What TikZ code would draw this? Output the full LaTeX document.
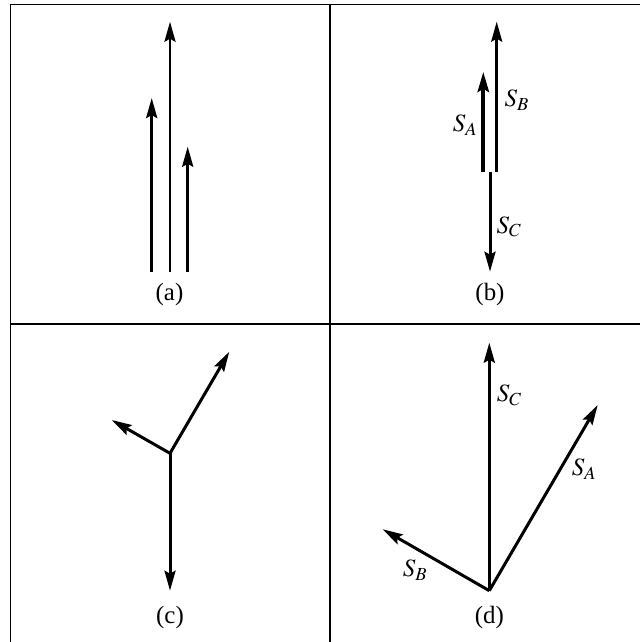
\documentclass[tikz,border=0pt]{standalone}
\usepackage{mathptmx}
\usepackage{fontspec}
\setmainfont{Liberation Serif}
\usepackage{tikz}
\usetikzlibrary{arrows.meta}

\begin{document}
\begin{tikzpicture}[x=1bp,y=-1bp,>={Stealth[length=20bp,width=11bp,inset=3bp]},
  vec/.style={->,line width=3bp},
  frame/.style={line width=1.3bp},
  every node/.style={font=\fontsize{25}{30}\selectfont}]
\useasboundingbox (0,0) rectangle (640,642);
% frame
\coordinate (TL) at (10.5,4.5);
\coordinate (TR) at (640,4.5);
\coordinate (BL) at (10.5,642);
\coordinate (ML) at (10.5,324);
\coordinate (MR) at (640,324);
\coordinate (MT) at (330,4.5);
\coordinate (MB) at (330,642);
\draw[frame] (TR) -- (TL) -- (BL);
\draw[frame] (ML) -- (MR);
\draw[frame] (MT) -- (MB);
% (a)
\coordinate (a1) at (151.7,271.7);
\coordinate (a1t) at (151.7,98);
\coordinate (a2) at (170,271.7);
\coordinate (a2t) at (170,21.7);
\coordinate (a3) at (187.7,271.7);
\coordinate (a3t) at (187.7,146.7);
\draw[vec] (a1) -- (a1t);
\draw[vec,line width=2.8bp] (a2) -- (a2t);
\draw[vec] (a3) -- (a3t);
\node (capA) at (169.5,295) {(a)};
% (b)
\coordinate (bA) at (483.3,171.7);
\coordinate (bAt) at (483.3,71.7);
\coordinate (bB) at (496.7,171.7);
\coordinate (bBt) at (496.7,21.7);
\coordinate (bC) at (490,171.7);
\coordinate (bCt) at (490,271.7);
\draw[vec,line width=4.3bp] (bA) -- (bAt);
\draw[vec,line width=2.5bp] (bB) -- (bBt);
\draw[vec] (bC) -- (bCt);
\node (SAb) at (465,125) {$S_A$};
\node (SBb) at (516.7,100) {$S_B$};
\node (SCb) at (509,226.7) {$S_C$};
\node (capB) at (490,295) {(b)};
% (c)
\coordinate (cO) at (170,453.3);
\coordinate (cA) at (229.3,351.7);
\coordinate (cB) at (111.7,420);
\coordinate (cC) at (170,590.7);
\draw[vec] (cO) -- (cA);
\draw[vec] (cO) -- (cB);
\draw[vec] (cO) -- (cC);
\node (capC) at (170,618) {(c)};
% (d)
\coordinate (dO) at (489.3,590.7);
\coordinate (dC) at (489.3,342.7);
\coordinate (dA) at (597.7,405);
\coordinate (dB) at (382.7,529.3);
\draw[vec] (dO) -- (dC);
\draw[vec] (dO) -- (dA);
\draw[vec] (dO) -- (dB);
\node (SCd) at (509.3,395) {$S_C$};
\node (SAd) at (584,469.3) {$S_A$};
\node (SBd) at (415,570) {$S_B$};
\node (capD) at (489.3,618) {(d)};
\end{tikzpicture}
\end{document}
